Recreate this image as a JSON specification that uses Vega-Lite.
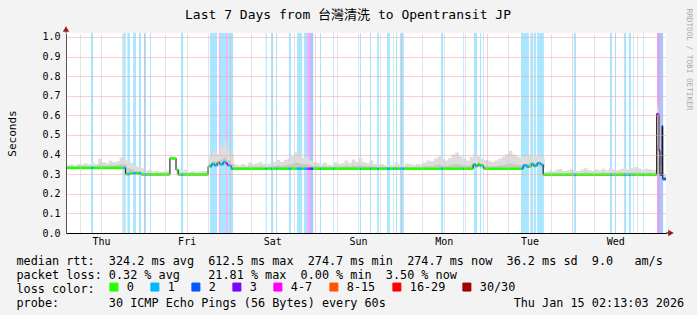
{
"$schema": "https://vega.github.io/schema/vega-lite/v6.json",
"width": 600, "height": 200,
"autosize": {"type": "none"},
"padding": {"left": 66, "top": 33, "right": 31, "bottom": 82},
"background": "#f3f3f3",
"title": {"text": "Last 7 Days from 台灣清洗 to Opentransit JP", "font": "DejaVu Sans Mono, Noto Sans CJK TC", "fontSize": 13, "fontWeight": "normal", "color": "#000000", "anchor": "middle", "dx": -18, "offset": -23.5, "baseline": "alphabetic"},
"config": {"view": {"fill": "#ffffff", "stroke": null}, "font": "DejaVu Sans Mono"},
"datasets": {
"bands": [
{"h0":7.0,"h1":7.6,"c":"1"},{"h0":16.0,"h1":16.7,"c":"1"},{"h0":17.2,"h1":17.9,"c":"1"},{"h0":18.8,"h1":19.6,"c":"1"},{"h0":20.4,"h1":21.0,"c":"1"},{"h0":21.8,"h1":22.4,"c":"1"},{"h0":23.5,"h1":23.8,"c":"1"},{"h0":32.2,"h1":32.8,"c":"1"},{"h0":40.3,"h1":42.3,"c":"1"},{"h0":42.8,"h1":43.1,"c":"4-7"},{"h0":43.1,"h1":44.8,"c":"1"},{"h0":44.8,"h1":45.2,"c":"4-7"},{"h0":45.2,"h1":46.8,"c":"1"},{"h0":55.9,"h1":56.2,"c":"1"},{"h0":57.4,"h1":58.0,"c":"1"},{"h0":58.8,"h1":59.1,"c":"1"},{"h0":62.4,"h1":63.0,"c":"1"},{"h0":64.7,"h1":66.1,"c":"1"},{"h0":66.6,"h1":67.5,"c":"1"},{"h0":67.5,"h1":68.3,"c":"4-7"},{"h0":68.3,"h1":69.2,"c":"2"},{"h0":71.1,"h1":71.4,"c":"1"},{"h0":74.8,"h1":75.0,"c":"1"},{"h0":82.3,"h1":82.6,"c":"1"},{"h0":85.1,"h1":85.4,"c":"1"},{"h0":87.1,"h1":87.6,"c":"1"},{"h0":89.9,"h1":90.7,"c":"1"},{"h0":91.6,"h1":91.8,"c":"1"},{"h0":92.4,"h1":92.7,"c":"1"},{"h0":93.5,"h1":94.6,"c":"1"},{"h0":105.0,"h1":105.6,"c":"1"},{"h0":111.2,"h1":111.4,"c":"1"},{"h0":114.2,"h1":115.1,"c":"1"},{"h0":115.9,"h1":116.2,"c":"1"},{"h0":116.8,"h1":117.0,"c":"1"},{"h0":127.4,"h1":129.6,"c":"1"},{"h0":130.2,"h1":130.8,"c":"1"},{"h0":131.0,"h1":131.6,"c":"1"},{"h0":131.9,"h1":133.8,"c":"1"},{"h0":142.2,"h1":142.8,"c":"1"},{"h0":152.3,"h1":152.9,"c":"1"},{"h0":153.7,"h1":154.0,"c":"1"},{"h0":156.2,"h1":156.8,"c":"1"},{"h0":157.6,"h1":158.2,"c":"1"},{"h0":158.8,"h1":159.0,"c":"1"},{"h0":161.6,"h1":161.8,"c":"1"},{"h0":165.5,"h1":166.3,"c":"3"},{"h0":166.3,"h1":167.2,"c":"2"}
],
"smoke": [
{"h":0,"lo":0.328,"mid":0.338,"hi":0.345},{"h":1,"lo":0.328,"mid":0.340,"hi":0.350},{"h":2,"lo":0.328,"mid":0.338,"hi":0.346},{"h":3,"lo":0.328,"mid":0.340,"hi":0.352},{"h":4,"lo":0.328,"mid":0.341,"hi":0.350},{"h":5,"lo":0.328,"mid":0.342,"hi":0.356},{"h":6,"lo":0.328,"mid":0.340,"hi":0.350},{"h":7,"lo":0.328,"mid":0.343,"hi":0.362},{"h":8,"lo":0.328,"mid":0.342,"hi":0.352},{"h":9,"lo":0.328,"mid":0.348,"hi":0.380},{"h":10,"lo":0.328,"mid":0.345,"hi":0.362},{"h":11,"lo":0.328,"mid":0.343,"hi":0.356},{"h":12,"lo":0.328,"mid":0.348,"hi":0.370},{"h":13,"lo":0.328,"mid":0.345,"hi":0.362},{"h":14,"lo":0.328,"mid":0.347,"hi":0.366},{"h":15,"lo":0.328,"mid":0.352,"hi":0.385},{"h":16,"lo":0.328,"mid":0.350,"hi":0.372},
{"h":17,"lo":0.297,"mid":0.330,"hi":0.368},{"h":18,"lo":0.297,"mid":0.325,"hi":0.358},{"h":19,"lo":0.297,"mid":0.318,"hi":0.342},{"h":20,"lo":0.297,"mid":0.315,"hi":0.336},{"h":21,"lo":0.297,"mid":0.310,"hi":0.330},{"h":22,"lo":0.296,"mid":0.305,"hi":0.318},{"h":23,"lo":0.296,"mid":0.307,"hi":0.322},{"h":24,"lo":0.296,"mid":0.304,"hi":0.314},{"h":25,"lo":0.296,"mid":0.306,"hi":0.318},{"h":26,"lo":0.296,"mid":0.305,"hi":0.312},{"h":27,"lo":0.296,"mid":0.305,"hi":0.314},{"h":28,"lo":0.296,"mid":0.306,"hi":0.318},{"h":29,"lo":0.376,"mid":0.383,"hi":0.392},{"h":30,"lo":0.376,"mid":0.382,"hi":0.388},{"h":31,"lo":0.295,"mid":0.305,"hi":0.326},{"h":32,"lo":0.295,"mid":0.304,"hi":0.316},{"h":33,"lo":0.295,"mid":0.306,"hi":0.322},{"h":34,"lo":0.295,"mid":0.304,"hi":0.312},{"h":35,"lo":0.295,"mid":0.305,"hi":0.316},{"h":36,"lo":0.295,"mid":0.304,"hi":0.312},{"h":37,"lo":0.295,"mid":0.305,"hi":0.314},{"h":38,"lo":0.295,"mid":0.306,"hi":0.318},{"h":39,"lo":0.295,"mid":0.305,"hi":0.315},
{"h":40,"lo":0.335,"mid":0.355,"hi":0.390},{"h":41,"lo":0.340,"mid":0.365,"hi":0.420},{"h":42,"lo":0.340,"mid":0.360,"hi":0.400},{"h":43,"lo":0.345,"mid":0.375,"hi":0.440},{"h":44,"lo":0.345,"mid":0.385,"hi":0.470},{"h":45,"lo":0.345,"mid":0.370,"hi":0.420},{"h":46,"lo":0.326,"mid":0.350,"hi":0.400},
{"h":47,"lo":0.326,"mid":0.337,"hi":0.350},{"h":48,"lo":0.326,"mid":0.336,"hi":0.345},{"h":49,"lo":0.326,"mid":0.338,"hi":0.352},{"h":50,"lo":0.326,"mid":0.336,"hi":0.346},{"h":51,"lo":0.326,"mid":0.340,"hi":0.360},{"h":52,"lo":0.326,"mid":0.338,"hi":0.350},{"h":53,"lo":0.326,"mid":0.339,"hi":0.356},{"h":54,"lo":0.326,"mid":0.341,"hi":0.362},{"h":55,"lo":0.326,"mid":0.338,"hi":0.352},{"h":56,"lo":0.326,"mid":0.337,"hi":0.350},{"h":57,"lo":0.326,"mid":0.339,"hi":0.356},{"h":58,"lo":0.326,"mid":0.342,"hi":0.362},{"h":59,"lo":0.326,"mid":0.345,"hi":0.372},{"h":60,"lo":0.326,"mid":0.342,"hi":0.362},{"h":61,"lo":0.326,"mid":0.345,"hi":0.372},{"h":62,"lo":0.326,"mid":0.348,"hi":0.380},{"h":63,"lo":0.326,"mid":0.352,"hi":0.392},{"h":64,"lo":0.326,"mid":0.358,"hi":0.412},{"h":65,"lo":0.326,"mid":0.355,"hi":0.400},{"h":66,"lo":0.326,"mid":0.350,"hi":0.382},{"h":67,"lo":0.326,"mid":0.352,"hi":0.390},{"h":68,"lo":0.326,"mid":0.346,"hi":0.370},{"h":69,"lo":0.326,"mid":0.342,"hi":0.360},
{"h":70,"lo":0.326,"mid":0.340,"hi":0.358},{"h":71,"lo":0.326,"mid":0.338,"hi":0.350},{"h":72,"lo":0.326,"mid":0.340,"hi":0.360},{"h":73,"lo":0.326,"mid":0.337,"hi":0.348},{"h":74,"lo":0.326,"mid":0.336,"hi":0.346},{"h":75,"lo":0.326,"mid":0.340,"hi":0.360},{"h":76,"lo":0.326,"mid":0.338,"hi":0.352},{"h":77,"lo":0.326,"mid":0.339,"hi":0.356},{"h":78,"lo":0.326,"mid":0.343,"hi":0.370},{"h":79,"lo":0.326,"mid":0.340,"hi":0.358},{"h":80,"lo":0.326,"mid":0.344,"hi":0.375},{"h":81,"lo":0.326,"mid":0.341,"hi":0.362},{"h":82,"lo":0.326,"mid":0.346,"hi":0.382},{"h":83,"lo":0.326,"mid":0.341,"hi":0.362},{"h":84,"lo":0.326,"mid":0.339,"hi":0.356},{"h":85,"lo":0.326,"mid":0.342,"hi":0.370},{"h":86,"lo":0.326,"mid":0.338,"hi":0.352},{"h":87,"lo":0.326,"mid":0.337,"hi":0.350},{"h":88,"lo":0.326,"mid":0.338,"hi":0.350},{"h":89,"lo":0.326,"mid":0.336,"hi":0.345},{"h":90,"lo":0.326,"mid":0.337,"hi":0.348},{"h":91,"lo":0.326,"mid":0.336,"hi":0.346},{"h":92,"lo":0.326,"mid":0.339,"hi":0.360},{"h":93,"lo":0.326,"mid":0.337,"hi":0.350},{"h":94,"lo":0.326,"mid":0.336,"hi":0.346},{"h":95,"lo":0.326,"mid":0.338,"hi":0.355},{"h":96,"lo":0.326,"mid":0.337,"hi":0.350},{"h":97,"lo":0.326,"mid":0.336,"hi":0.347},{"h":98,"lo":0.326,"mid":0.338,"hi":0.352},{"h":99,"lo":0.326,"mid":0.337,"hi":0.350},
{"h":100,"lo":0.326,"mid":0.340,"hi":0.360},{"h":101,"lo":0.326,"mid":0.342,"hi":0.370},{"h":102,"lo":0.326,"mid":0.341,"hi":0.366},{"h":103,"lo":0.326,"mid":0.345,"hi":0.380},{"h":104,"lo":0.326,"mid":0.348,"hi":0.390},{"h":105,"lo":0.326,"mid":0.344,"hi":0.378},{"h":106,"lo":0.326,"mid":0.342,"hi":0.370},{"h":107,"lo":0.326,"mid":0.345,"hi":0.382},{"h":108,"lo":0.326,"mid":0.350,"hi":0.400},{"h":109,"lo":0.326,"mid":0.352,"hi":0.410},{"h":110,"lo":0.326,"mid":0.348,"hi":0.392},{"h":111,"lo":0.326,"mid":0.345,"hi":0.380},{"h":112,"lo":0.326,"mid":0.342,"hi":0.370},{"h":113,"lo":0.326,"mid":0.347,"hi":0.388},{"h":114,"lo":0.335,"mid":0.352,"hi":0.400},{"h":115,"lo":0.335,"mid":0.350,"hi":0.392},{"h":116,"lo":0.330,"mid":0.345,"hi":0.380},{"h":117,"lo":0.326,"mid":0.342,"hi":0.372},{"h":118,"lo":0.326,"mid":0.341,"hi":0.368},{"h":119,"lo":0.326,"mid":0.340,"hi":0.362},{"h":120,"lo":0.326,"mid":0.342,"hi":0.370},{"h":121,"lo":0.326,"mid":0.344,"hi":0.380},{"h":122,"lo":0.326,"mid":0.347,"hi":0.390},{"h":123,"lo":0.326,"mid":0.350,"hi":0.402},{"h":124,"lo":0.326,"mid":0.355,"hi":0.420},{"h":125,"lo":0.326,"mid":0.350,"hi":0.400},{"h":126,"lo":0.326,"mid":0.347,"hi":0.390},{"h":127,"lo":0.326,"mid":0.345,"hi":0.382},{"h":128,"lo":0.335,"mid":0.352,"hi":0.392},{"h":129,"lo":0.338,"mid":0.356,"hi":0.400},{"h":130,"lo":0.335,"mid":0.352,"hi":0.385},{"h":131,"lo":0.338,"mid":0.355,"hi":0.392},{"h":132,"lo":0.340,"mid":0.358,"hi":0.400},{"h":133,"lo":0.335,"mid":0.350,"hi":0.380},
{"h":134,"lo":0.294,"mid":0.302,"hi":0.312},{"h":135,"lo":0.294,"mid":0.304,"hi":0.318},{"h":136,"lo":0.294,"mid":0.303,"hi":0.315},{"h":137,"lo":0.294,"mid":0.305,"hi":0.322},{"h":138,"lo":0.294,"mid":0.306,"hi":0.326},{"h":139,"lo":0.294,"mid":0.304,"hi":0.316},{"h":140,"lo":0.294,"mid":0.305,"hi":0.320},{"h":141,"lo":0.294,"mid":0.306,"hi":0.325},{"h":142,"lo":0.294,"mid":0.305,"hi":0.318},{"h":143,"lo":0.294,"mid":0.304,"hi":0.316},{"h":144,"lo":0.294,"mid":0.306,"hi":0.324},{"h":145,"lo":0.294,"mid":0.308,"hi":0.330},{"h":146,"lo":0.294,"mid":0.305,"hi":0.320},{"h":147,"lo":0.294,"mid":0.304,"hi":0.316},{"h":148,"lo":0.294,"mid":0.306,"hi":0.324},{"h":149,"lo":0.294,"mid":0.305,"hi":0.320},{"h":150,"lo":0.294,"mid":0.307,"hi":0.328},{"h":151,"lo":0.294,"mid":0.305,"hi":0.320},{"h":152,"lo":0.294,"mid":0.308,"hi":0.332},{"h":153,"lo":0.294,"mid":0.306,"hi":0.324},{"h":154,"lo":0.294,"mid":0.305,"hi":0.320},{"h":155,"lo":0.294,"mid":0.307,"hi":0.326},{"h":156,"lo":0.294,"mid":0.309,"hi":0.335},{"h":157,"lo":0.294,"mid":0.306,"hi":0.324},{"h":158,"lo":0.294,"mid":0.307,"hi":0.330},{"h":159,"lo":0.294,"mid":0.309,"hi":0.336},{"h":160,"lo":0.294,"mid":0.308,"hi":0.330},{"h":161,"lo":0.294,"mid":0.306,"hi":0.322},{"h":162,"lo":0.294,"mid":0.307,"hi":0.328},{"h":163,"lo":0.294,"mid":0.306,"hi":0.325},{"h":164,"lo":0.294,"mid":0.305,"hi":0.320},{"h":165,"lo":0.294,"mid":0.306,"hi":0.322},
{"h":165.4,"lo":0.300,"mid":0.450,"hi":0.650},{"h":166.0,"lo":0.300,"mid":0.380,"hi":0.480},{"h":166.3,"lo":0.290,"mid":0.310,"hi":0.340},{"h":166.9,"lo":0.280,"mid":0.420,"hi":0.560},{"h":167.1,"lo":0.272,"mid":0.285,"hi":0.300},{"h":168,"lo":0.272,"mid":0.285,"hi":0.300}
],
"seg": [
{"h0":0,"h1":7.0,"v":0.332,"c":"0"},{"h0":7.0,"h1":7.6,"v":0.332,"c":"1"},{"h0":7.6,"h1":16.0,"v":0.332,"c":"0"},{"h0":16.0,"h1":16.7,"v":0.332,"c":"1"},{"h0":16.7,"h1":17.2,"v":0.300,"c":"0"},{"h0":17.2,"h1":17.9,"v":0.300,"c":"1"},{"h0":17.9,"h1":18.8,"v":0.304,"c":"0"},{"h0":18.8,"h1":19.6,"v":0.304,"c":"1"},{"h0":19.6,"h1":20.4,"v":0.304,"c":"0"},{"h0":20.4,"h1":21.0,"v":0.304,"c":"1"},{"h0":21.0,"h1":21.8,"v":0.298,"c":"0"},{"h0":21.8,"h1":22.4,"v":0.298,"c":"1"},{"h0":22.4,"h1":23.5,"v":0.298,"c":"0"},{"h0":23.5,"h1":23.8,"v":0.298,"c":"1"},{"h0":23.8,"h1":29.1,"v":0.298,"c":"0"},{"h0":29.1,"h1":30.8,"v":0.380,"c":"0"},{"h0":30.8,"h1":31.4,"v":0.322,"c":"0"},{"h0":31.4,"h1":32.2,"v":0.298,"c":"0"},{"h0":32.2,"h1":32.8,"v":0.298,"c":"1"},{"h0":32.8,"h1":39.8,"v":0.298,"c":"0"},
{"h0":39.8,"h1":40.3,"v":0.340,"c":"0"},{"h0":40.3,"h1":40.8,"v":0.340,"c":"1"},{"h0":40.8,"h1":41.6,"v":0.352,"c":"1"},{"h0":41.6,"h1":42.3,"v":0.345,"c":"1"},{"h0":42.3,"h1":42.8,"v":0.358,"c":"0"},{"h0":42.8,"h1":43.1,"v":0.358,"c":"4-7"},{"h0":43.1,"h1":44.0,"v":0.350,"c":"1"},{"h0":44.0,"h1":44.8,"v":0.362,"c":"1"},{"h0":44.8,"h1":45.2,"v":0.355,"c":"4-7"},{"h0":45.2,"h1":46.2,"v":0.345,"c":"1"},{"h0":46.2,"h1":46.8,"v":0.328,"c":"1"},
{"h0":46.8,"h1":55.9,"v":0.328,"c":"0"},{"h0":55.9,"h1":56.2,"v":0.328,"c":"1"},{"h0":56.2,"h1":57.4,"v":0.328,"c":"0"},{"h0":57.4,"h1":58.0,"v":0.328,"c":"1"},{"h0":58.0,"h1":58.8,"v":0.328,"c":"0"},{"h0":58.8,"h1":59.1,"v":0.328,"c":"1"},{"h0":59.1,"h1":62.4,"v":0.328,"c":"0"},{"h0":62.4,"h1":63.0,"v":0.328,"c":"1"},{"h0":63.0,"h1":64.7,"v":0.328,"c":"0"},{"h0":64.7,"h1":66.1,"v":0.328,"c":"1"},{"h0":66.1,"h1":66.6,"v":0.328,"c":"0"},{"h0":66.6,"h1":67.5,"v":0.328,"c":"1"},{"h0":67.5,"h1":68.3,"v":0.328,"c":"4-7"},{"h0":68.3,"h1":69.2,"v":0.328,"c":"2"},{"h0":69.2,"h1":71.1,"v":0.328,"c":"0"},{"h0":71.1,"h1":71.4,"v":0.328,"c":"1"},{"h0":71.4,"h1":74.8,"v":0.328,"c":"0"},{"h0":74.8,"h1":75.0,"v":0.328,"c":"1"},{"h0":75.0,"h1":82.3,"v":0.328,"c":"0"},{"h0":82.3,"h1":82.6,"v":0.328,"c":"1"},{"h0":82.6,"h1":85.1,"v":0.328,"c":"0"},{"h0":85.1,"h1":85.4,"v":0.328,"c":"1"},{"h0":85.4,"h1":87.1,"v":0.328,"c":"0"},{"h0":87.1,"h1":87.6,"v":0.328,"c":"1"},{"h0":87.6,"h1":89.9,"v":0.328,"c":"0"},{"h0":89.9,"h1":90.7,"v":0.328,"c":"1"},{"h0":90.7,"h1":91.6,"v":0.328,"c":"0"},{"h0":91.6,"h1":91.8,"v":0.328,"c":"1"},{"h0":91.8,"h1":92.4,"v":0.328,"c":"0"},{"h0":92.4,"h1":92.7,"v":0.328,"c":"1"},{"h0":92.7,"h1":93.5,"v":0.328,"c":"0"},{"h0":93.5,"h1":94.6,"v":0.328,"c":"1"},{"h0":94.6,"h1":105.0,"v":0.328,"c":"0"},{"h0":105.0,"h1":105.6,"v":0.328,"c":"1"},{"h0":105.6,"h1":111.2,"v":0.328,"c":"0"},{"h0":111.2,"h1":111.4,"v":0.328,"c":"1"},{"h0":111.4,"h1":114.0,"v":0.328,"c":"0"},
{"h0":114.0,"h1":114.2,"v":0.350,"c":"0"},{"h0":114.2,"h1":114.6,"v":0.350,"c":"1"},{"h0":114.6,"h1":115.1,"v":0.342,"c":"1"},{"h0":115.1,"h1":115.4,"v":0.342,"c":"0"},{"h0":115.4,"h1":115.9,"v":0.352,"c":"0"},{"h0":115.9,"h1":116.2,"v":0.345,"c":"1"},{"h0":116.2,"h1":116.8,"v":0.345,"c":"0"},{"h0":116.8,"h1":117.0,"v":0.338,"c":"1"},{"h0":117.0,"h1":127.4,"v":0.328,"c":"0"},{"h0":127.4,"h1":128.0,"v":0.328,"c":"1"},{"h0":128.0,"h1":129.0,"v":0.345,"c":"1"},{"h0":129.0,"h1":129.6,"v":0.338,"c":"1"},{"h0":129.6,"h1":130.2,"v":0.338,"c":"0"},{"h0":130.2,"h1":130.8,"v":0.352,"c":"1"},{"h0":130.8,"h1":131.0,"v":0.352,"c":"0"},{"h0":131.0,"h1":131.6,"v":0.342,"c":"1"},{"h0":131.6,"h1":131.9,"v":0.342,"c":"0"},{"h0":131.9,"h1":133.0,"v":0.356,"c":"1"},{"h0":133.0,"h1":133.6,"v":0.348,"c":"1"},
{"h0":133.6,"h1":142.2,"v":0.297,"c":"0"},{"h0":142.2,"h1":142.8,"v":0.297,"c":"1"},{"h0":142.8,"h1":152.3,"v":0.297,"c":"0"},{"h0":152.3,"h1":152.9,"v":0.297,"c":"1"},{"h0":152.9,"h1":153.7,"v":0.297,"c":"0"},{"h0":153.7,"h1":154.0,"v":0.297,"c":"1"},{"h0":154.0,"h1":156.2,"v":0.297,"c":"0"},{"h0":156.2,"h1":156.8,"v":0.297,"c":"1"},{"h0":156.8,"h1":157.6,"v":0.297,"c":"0"},{"h0":157.6,"h1":158.2,"v":0.297,"c":"1"},{"h0":158.2,"h1":158.8,"v":0.297,"c":"0"},{"h0":158.8,"h1":159.0,"v":0.297,"c":"1"},{"h0":159.0,"h1":161.6,"v":0.297,"c":"0"},{"h0":161.6,"h1":161.8,"v":0.297,"c":"1"},{"h0":161.8,"h1":165.4,"v":0.297,"c":"0"},{"h0":165.4,"h1":166.0,"v":0.606,"c":"3"},{"h0":166.0,"h1":166.3,"v":0.420,"c":"3"},{"h0":166.3,"h1":166.9,"v":0.297,"c":"2"},{"h0":166.9,"h1":167.1,"v":0.546,"c":"2"},{"h0":167.1,"h1":168.0,"v":0.275,"c":"2"}
]
},
"layer": [
{"data": {"name": "bands"}, "mark": {"type": "rect", "opacity": 0.34},
 "encoding": {
  "x": {"field": "h0", "type": "quantitative", "scale": {"domain": [0, 168], "nice": false, "zero": false},
   "axis": {
    "values": [3.78,9.78,15.78,21.78,27.78,33.78,39.78,45.78,51.78,57.78,63.78,69.78,75.78,81.78,87.78,93.78,99.78,105.78,111.78,117.78,123.78,129.78,135.78,141.78,147.78,153.78,159.78,165.78],
    "labelExpr": "((datum.value % 24) > 9 && (datum.value % 24) < 10) ? ['Thu','Fri','Sat','Sun','Mon','Tue','Wed'][floor(datum.value / 24)] : ''",
    "grid": true,
    "gridColor": {"condition": {"test": "(datum.value % 24) > 21 && (datum.value % 24) < 22", "value": "#f0a0a0"}, "value": "#c8c8c8"},
    "gridDash": [1, 1], "gridWidth": 1,
    "ticks": false, "domainColor": "#000000", "domainWidth": 1,
    "labelFont": "DejaVu Sans Mono", "labelFontSize": 10, "labelColor": "#000000", "labelPadding": 3, "labelFlush": false, "labelOverlap": false,
    "title": ["median rtt:\u00a0\u00a0324.2 ms avg\u00a0\u00a0612.5 ms max\u00a0\u00a0274.7 ms min\u00a0\u00a0274.7 ms now\u00a0\u00a036.2 ms sd\u00a0\u00a09.0\u00a0\u00a0\u00a0am/s", "packet loss: 0.32 % avg\u00a0\u00a0\u00a0\u00a021.81 % max\u00a0\u00a00.00 % min\u00a0\u00a03.50 % now", "loss color:", "probe:\u00a0\u00a0\u00a0\u00a0\u00a0\u00a0\u00a030 ICMP Echo Pings (56 Bytes) every 60s\u00a0\u00a0\u00a0\u00a0\u00a0\u00a0\u00a0\u00a0\u00a0\u00a0\u00a0\u00a0\u00a0\u00a0\u00a0\u00a0\u00a0\u00a0Thu Jan 15 02:13:03 2026"],
    "titleFont": "DejaVu Sans Mono", "titleFontSize": 11.8, "titleFontWeight": "normal", "titleColor": "#000000",
    "titleX": -50, "titleY": 31, "titleAlign": "left", "titleAnchor": "start", "titleBaseline": "alphabetic", "titleLineHeight": 14,
    "zindex": 1
   }},
  "x2": {"field": "h1"},
  "color": {"field": "c", "type": "nominal",
   "scale": {"domain": ["0","1","2","3","4-7","8-15","16-29","30/30"], "range": ["#26ff00","#00b8ff","#0059ff","#7e00ff","#ff00ff","#ff5500","#ff0000","#a10000"]},
   "legend": {"orient": "none", "legendX": 42, "legendY": 248, "direction": "horizontal", "title": null,
    "symbolType": "square", "symbolSize": 64, "symbolStrokeColor": "#000000", "symbolStrokeWidth": 1, "symbolOpacity": 1,
    "labelFont": "DejaVu Sans Mono", "labelFontSize": 11.8, "labelColor": "#000000", "labelOffset": 7, "columnPadding": 14, "padding": 0,
    "encode": {"symbols": {"update": {"fill": {"scale": "color", "field": "value"}, "stroke": {"value": "#000000"}, "opacity": {"value": 1}, "fillOpacity": {"value": 1}}}}}}
 }},
{"data": {"name": "smoke"}, "mark": {"type": "area", "interpolate": "step-after", "color": "#dddddd"},
 "encoding": {"x": {"field": "h", "type": "quantitative", "axis": null},
  "y": {"field": "hi", "type": "quantitative", "scale": {"domain": [0, 1.02], "nice": false, "zero": true},
   "axis": {"title": "Seconds", "values": [0,0.1,0.2,0.3,0.4,0.5,0.6,0.7,0.8,0.9,1.0], "format": ".1f", "grid": true, "gridColor": "#f0a0a0", "gridDash": [1, 1], "ticks": false, "domainColor": "#555555", "labelOverlap": false, "labelBound": false,
    "labelFont": "DejaVu Sans Mono", "labelFontSize": 10, "labelColor": "#000000", "labelPadding": 6,
    "titleFont": "DejaVu Sans Mono", "titleFontSize": 11, "titleFontWeight": "normal", "titleColor": "#000000", "titleX": -50.5, "titleY": 100, "titleAngle": -90, "titleAlign": "center", "titleBaseline": "alphabetic", "zindex": 1}},
  "y2": {"field": "lo"}}},
{"data": {"name": "smoke"}, "mark": {"type": "area", "interpolate": "step-after", "color": "#c8c8c8"},
 "encoding": {"x": {"field": "h", "type": "quantitative", "axis": null}, "y": {"field": "mid", "type": "quantitative", "axis": null}, "y2": {"field": "lo"}}},
{"data": {"name": "seg"}, "mark": {"type": "line", "interpolate": "step-after", "color": "#000000", "strokeWidth": 1},
 "encoding": {"x": {"field": "h0", "type": "quantitative", "axis": null}, "y": {"field": "v", "type": "quantitative", "axis": null}}},
{"data": {"name": "seg"}, "mark": {"type": "rule", "strokeWidth": 2.6},
 "encoding": {"x": {"field": "h0", "type": "quantitative", "axis": null}, "x2": {"field": "h1"}, "y": {"field": "v", "type": "quantitative", "axis": null}, "color": {"field": "c", "type": "nominal"}}},
{"data": {"values": [{"h": 0, "v": 1.02, "v2": 1.045}]}, "mark": {"type": "rule", "color": "#555555", "strokeWidth": 1},
 "encoding": {"x": {"field": "h", "type": "quantitative", "axis": null}, "y": {"field": "v", "type": "quantitative", "axis": null}, "y2": {"field": "v2"}}},
{"data": {"values": [{"h": 0, "v": 1.04}]}, "mark": {"type": "point", "shape": "triangle-up", "filled": true, "color": "#9a1c1c", "size": 40, "opacity": 1},
 "encoding": {"x": {"field": "h", "type": "quantitative", "axis": null}, "y": {"field": "v", "type": "quantitative", "axis": null}}},
{"data": {"values": [{"h": 168, "h2": 169.5, "v": 0}]}, "mark": {"type": "rule", "color": "#000000", "strokeWidth": 1},
 "encoding": {"x": {"field": "h", "type": "quantitative", "axis": null}, "x2": {"field": "h2"}, "y": {"field": "v", "type": "quantitative", "axis": null}}},
{"data": {"values": [{"h": 169.4, "v": 0}]}, "mark": {"type": "point", "shape": "triangle-right", "filled": true, "color": "#9a1c1c", "size": 40, "opacity": 1},
 "encoding": {"x": {"field": "h", "type": "quantitative", "axis": null}, "y": {"field": "v", "type": "quantitative", "axis": null}}},
{"data": {"name": "seg"}, "mark": {"type": "point", "opacity": 0},
 "encoding": {"x": {"field": "h0", "type": "quantitative", "axis": null},
  "y": {"field": "v", "type": "quantitative", "axis": {"orient": "right", "title": "RRDTOOL / TOBI OETIKER", "titleAngle": 90, "titleX": 22, "titleY": -25, "titleAlign": "left", "titleBaseline": "middle", "titleFont": "DejaVu Sans Mono", "titleFontSize": 7.7, "titleColor": "#a8a8a8", "titleFontWeight": "normal", "labels": false, "ticks": false, "domain": false, "grid": false}}}}
],
"resolve": {"axis": {"x": "independent", "y": "independent"}}
}
